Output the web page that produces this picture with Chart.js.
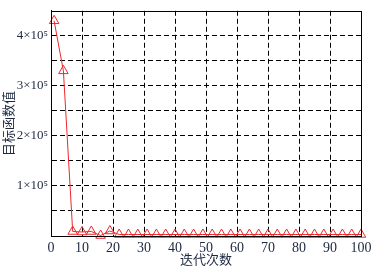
<!DOCTYPE html>
<html>
<head>
<meta charset="utf-8">
<script src="https://cdn.jsdelivr.net/npm/chart.js@4"></script>
<style>
  html, body { margin: 0; padding: 0; background: #fff; }
  #wrap { width: 385px; height: 267px; }
</style>
</head>
<body>
<div id="wrap"><canvas id="chart" width="385" height="267"></canvas></div>
<script>
// iterations sampled every 3 steps
const iterations = [1, 4, 7, 10, 13, 16, 19, 22, 25, 28, 31, 34, 37, 40, 43, 46, 49, 52,
    55, 58, 61, 64, 67, 70, 73, 76, 79, 82, 85, 88, 91, 94, 97, 100];
const objectiveValues = [430000, 330000, 9000, 8000, 9000, 1000, 10000, 3000, 3000, 3000,
    3000, 3000, 3000, 3000, 3000, 3000, 3000, 3000, 3000, 3000, 3000, 3000, 3000, 3000,
    3000, 3000, 3000, 3000, 3000, 3000, 3000, 3000, 3000, 3000];
const yTickLabels = { 100000: '1×10⁵', 200000: '2×10⁵', 300000: '3×10⁵', 400000: '4×10⁵' };

const RED = 'rgb(236,40,44)';
const TEXT = '#1e2840';
const SERIF = "'Liberation Serif', 'DejaVu Serif', serif";
const CJK = "'Noto Sans CJK SC', sans-serif";

const framePlugin = {
    id: 'frame',
    afterDatasetsDraw(chart) {
        const { ctx, chartArea: a } = chart;
        ctx.save();
        ctx.strokeStyle = '#000';
        ctx.lineWidth = 1;
        ctx.strokeRect(Math.round(a.left) + 0.5, Math.round(a.top) + 0.5,
            Math.round(a.right - a.left), Math.round(a.bottom - a.top));
        ctx.restore();
    }
};

// hide the grid lines that sit on the frame
const innerGrid = (lo, hi) => c =>
    (c.tick && (c.tick.value === lo || c.tick.value === hi)) ? 'rgba(0,0,0,0)' : '#000';

const ctx = document.getElementById('chart').getContext('2d');
new Chart(ctx, {
    type: 'line',
    data: {
        datasets: [{
            data: iterations.map((x, i) => ({ x, y: objectiveValues[i] })),
            borderColor: RED,
            borderWidth: 1,
            pointStyle: 'triangle',
            pointRadius: 5.5,
            pointBorderColor: RED,
            pointBorderWidth: 1,
            pointBackgroundColor: 'rgba(255,255,255,0)',
            tension: 0,
            clip: false,
        }]
    },
    options: {
        responsive: false,
        animation: false,
        events: [],
        layout: { padding: { left: 0, right: 24, top: 8, bottom: 0 } },
        plugins: { legend: { display: false }, tooltip: { enabled: false } },
        scales: {
            x: {
                type: 'linear',
                min: 0, max: 100,
                grid: { color: innerGrid(0, 100), lineWidth: 1, drawTicks: false },
                border: { display: true, color: '#000', dash: [5, 3] },
                ticks: {
                    stepSize: 10, padding: 4, color: TEXT, maxRotation: 0,
                    font: { family: SERIF, size: 14 }
                },
                title: {
                    display: true, text: '迭代次数', color: TEXT,
                    font: { family: CJK, size: 13 }, padding: { top: -3, bottom: 0 }
                },
                afterFit(scale) { scale.height = 31; }
            },
            y: {
                min: 0, max: 450000,
                grid: { color: innerGrid(0, 450000), lineWidth: 1, drawTicks: false },
                border: { display: true, color: '#000', dash: [5, 3] },
                ticks: {
                    stepSize: 50000, padding: 3, color: TEXT, autoSkip: false,
                    font: { family: SERIF, size: 13 },
                    callback: v => yTickLabels[v] || ''
                },
                title: {
                    display: true, text: '目标函数值', color: TEXT,
                    font: { family: CJK, size: 13 }, padding: { top: 0, bottom: 0 }
                },
                afterFit(scale) { scale.width = 51; }
            }
        }
    },
    plugins: [framePlugin]
});
</script>
</body>
</html>
